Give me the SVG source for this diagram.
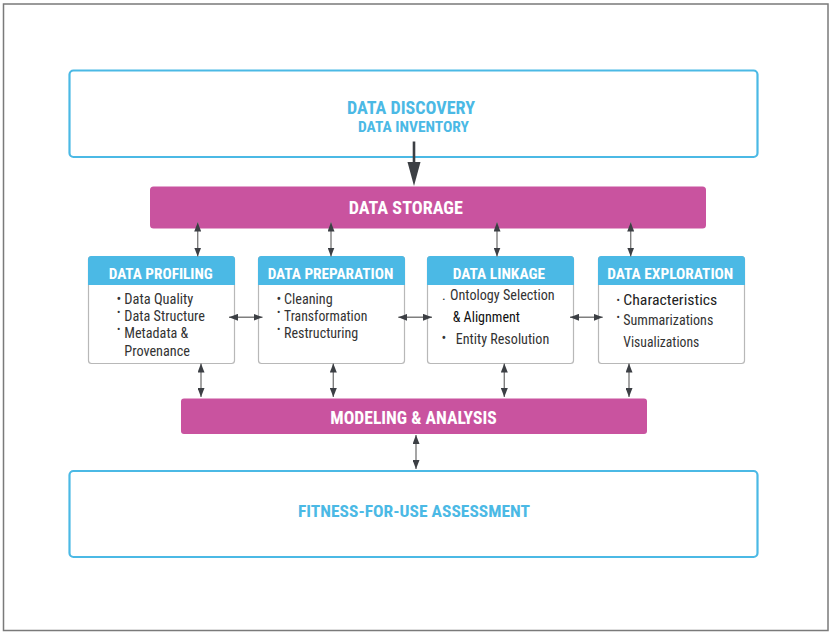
<svg xmlns="http://www.w3.org/2000/svg" width="832" height="634" viewBox="0 0 832 634">
<style>
text{font-family:"Liberation Sans Narrow","Roboto Condensed","Liberation Sans",Arial,sans-serif;}
.big{fill:#4bb9e5;font-weight:bold;text-anchor:middle;}
.bar{fill:#c9539f;}
.bartxt{fill:#ffffff;font-weight:bold;font-size:17.5px;text-anchor:middle;}
.frame{fill:#ffffff;stroke:#4bb9e5;stroke-width:2.2;}
.box{fill:#ffffff;stroke:#b8b8b8;stroke-width:1.2;}
.hdr{fill:#4bb9e5;}
.hdrtxt{fill:#ffffff;font-weight:bold;font-size:14px;text-anchor:middle;}
.body{fill:#333333;font-size:14px;}
.dot{fill:#333333;font-size:10px;}
.conn{stroke:#7f7f7f;stroke-width:1.4;fill:none;marker-start:url(#ah);marker-end:url(#ah);}
</style>
<defs>
<marker id="ah" markerUnits="userSpaceOnUse" markerWidth="10" markerHeight="7" refX="9" refY="3.5" orient="auto-start-reverse">
<path d="M0,0 L9,3.5 L0,7 Z" fill="#3c3f44"/>
</marker>
</defs>
<rect x="0" y="0" width="832" height="634" fill="#ffffff"/>
<rect x="3.5" y="4" width="824.5" height="626.5" fill="#ffffff" stroke="#7a7a7a" stroke-width="1.5"/>

<g id="data-discovery">
<rect class="frame" x="69.5" y="70.5" width="688" height="86.5" rx="4"/>
<text class="big" x="411" y="114" font-size="18" textLength="128" lengthAdjust="spacingAndGlyphs">DATA DISCOVERY</text>
<text class="big" x="413.5" y="131.5" font-size="15" textLength="111" lengthAdjust="spacingAndGlyphs">DATA INVENTORY</text>
</g>

<g id="data-storage">
<rect class="bar" x="150" y="186.5" width="556" height="42" rx="3.5"/>
<text class="bartxt" x="405.8" y="214.3" textLength="114" lengthAdjust="spacingAndGlyphs">DATA STORAGE</text>
</g>

<g id="data-profiling">
<rect class="box" x="88.5" y="256.5" width="146" height="107" rx="3"/>
<path class="hdr" d="M88,285 V259.5 Q88,256 91.5,256 H231.5 Q235,256 235,259.5 V285 Z"/>
<text class="hdrtxt" x="160.7" y="278.5" textLength="104" lengthAdjust="spacingAndGlyphs">DATA PROFILING</text>
<text class="body" x="116.5" y="303.5" font-size="12">•</text>
<text class="body" x="124.3" y="303.5" textLength="69" lengthAdjust="spacingAndGlyphs">Data Quality</text>
<text class="dot" x="117" y="316">•</text>
<text class="body" x="124.3" y="320.8" textLength="80.7" lengthAdjust="spacingAndGlyphs">Data Structure</text>
<text class="dot" x="117" y="333.3">•</text>
<text class="body" x="124.3" y="338.3" textLength="64" lengthAdjust="spacingAndGlyphs">Metadata &amp;</text>
<text class="body" x="124.3" y="356" textLength="65.7" lengthAdjust="spacingAndGlyphs">Provenance</text>
</g>

<g id="data-preparation">
<rect class="box" x="258.5" y="256.5" width="146" height="107" rx="3"/>
<path class="hdr" d="M258,285 V259.5 Q258,256 261.5,256 H401.5 Q405,256 405,259.5 V285 Z"/>
<text class="hdrtxt" x="330.5" y="278.5" textLength="125.7" lengthAdjust="spacingAndGlyphs">DATA PREPARATION</text>
<text class="body" x="276.5" y="303.5" font-size="12">•</text>
<text class="body" x="284" y="303.5" textLength="48.7" lengthAdjust="spacingAndGlyphs">Cleaning</text>
<text class="dot" x="277" y="316">•</text>
<text class="body" x="284" y="320.8" textLength="83.3" lengthAdjust="spacingAndGlyphs">Transformation</text>
<text class="dot" x="277" y="333.3">•</text>
<text class="body" x="284" y="338.3" textLength="74.3" lengthAdjust="spacingAndGlyphs">Restructuring</text>
</g>

<g id="data-linkage">
<rect class="box" x="427.5" y="256.5" width="146" height="107" rx="3"/>
<path class="hdr" d="M427,285 V259.5 Q427,256 430.5,256 H570.5 Q574,256 574,259.5 V285 Z"/>
<text class="hdrtxt" x="498.9" y="278.5" textLength="92.3" lengthAdjust="spacingAndGlyphs">DATA LINKAGE</text>
<text class="body" x="442" y="300">.</text>
<text class="body" x="450" y="300" textLength="104.7" lengthAdjust="spacingAndGlyphs">Ontology Selection</text>
<text class="body" x="452.7" y="322.3" style="fill:#111111" textLength="67.3" lengthAdjust="spacingAndGlyphs">&amp; Alignment</text>
<text class="body" x="441.5" y="342.5" font-size="11">•</text>
<text class="body" x="455.7" y="344.3" textLength="93.6" lengthAdjust="spacingAndGlyphs">Entity Resolution</text>
</g>

<g id="data-exploration">
<rect class="box" x="598.5" y="256.5" width="146" height="107" rx="3"/>
<path class="hdr" d="M598,285 V259.5 Q598,256 601.5,256 H741.5 Q745,256 745,259.5 V285 Z"/>
<text class="hdrtxt" x="670.3" y="278.5" textLength="126" lengthAdjust="spacingAndGlyphs">DATA EXPLORATION</text>
<text class="dot" x="616.5" y="304">•</text>
<text class="body" x="623.3" y="305" font-size="16.5" style="fill:#222222" textLength="94" lengthAdjust="spacingAndGlyphs">Characteristics</text>
<text class="dot" x="616.5" y="321">•</text>
<text class="body" x="623.3" y="325" textLength="90" lengthAdjust="spacingAndGlyphs">Summarizations</text>
<text class="body" x="623.3" y="346.7" textLength="76" lengthAdjust="spacingAndGlyphs">Visualizations</text>
</g>

<g id="modeling-analysis">
<rect class="bar" x="181" y="398.5" width="466" height="35.5" rx="3"/>
<text class="bartxt" x="413.5" y="423.7" textLength="166.4" lengthAdjust="spacingAndGlyphs">MODELING &amp; ANALYSIS</text>
</g>

<g id="fitness-for-use">
<rect class="frame" x="69.5" y="471" width="688" height="86" rx="4"/>
<text class="big" x="414" y="517" font-size="17" textLength="232" lengthAdjust="spacingAndGlyphs">FITNESS-FOR-USE ASSESSMENT</text>
</g>

<g id="connectors">
<line x1="414" y1="141.5" x2="414" y2="166" stroke="#3c3f44" stroke-width="2.6"/>
<polygon points="407.5,162 420.5,162 414,186" fill="#3c3f44"/>
<line class="conn" x1="197.7" y1="222.5" x2="197.7" y2="256.5"/>
<line class="conn" x1="331" y1="222.5" x2="331" y2="256.5"/>
<line class="conn" x1="497" y1="222.5" x2="497" y2="256.5"/>
<line class="conn" x1="630.7" y1="222.5" x2="630.7" y2="256.5"/>
<line class="conn" x1="229" y1="317.3" x2="262.5" y2="317.3"/>
<line class="conn" x1="398.3" y1="317.3" x2="432" y2="317.3"/>
<line class="conn" x1="570" y1="317.3" x2="602.7" y2="317.3"/>
<line class="conn" x1="201" y1="363.5" x2="201" y2="397"/>
<line class="conn" x1="333.3" y1="363.5" x2="333.3" y2="397"/>
<line class="conn" x1="504.3" y1="363.5" x2="504.3" y2="397"/>
<line class="conn" x1="629" y1="363.5" x2="629" y2="397"/>
<line class="conn" x1="416" y1="435" x2="416" y2="469"/>
</g>
</svg>
